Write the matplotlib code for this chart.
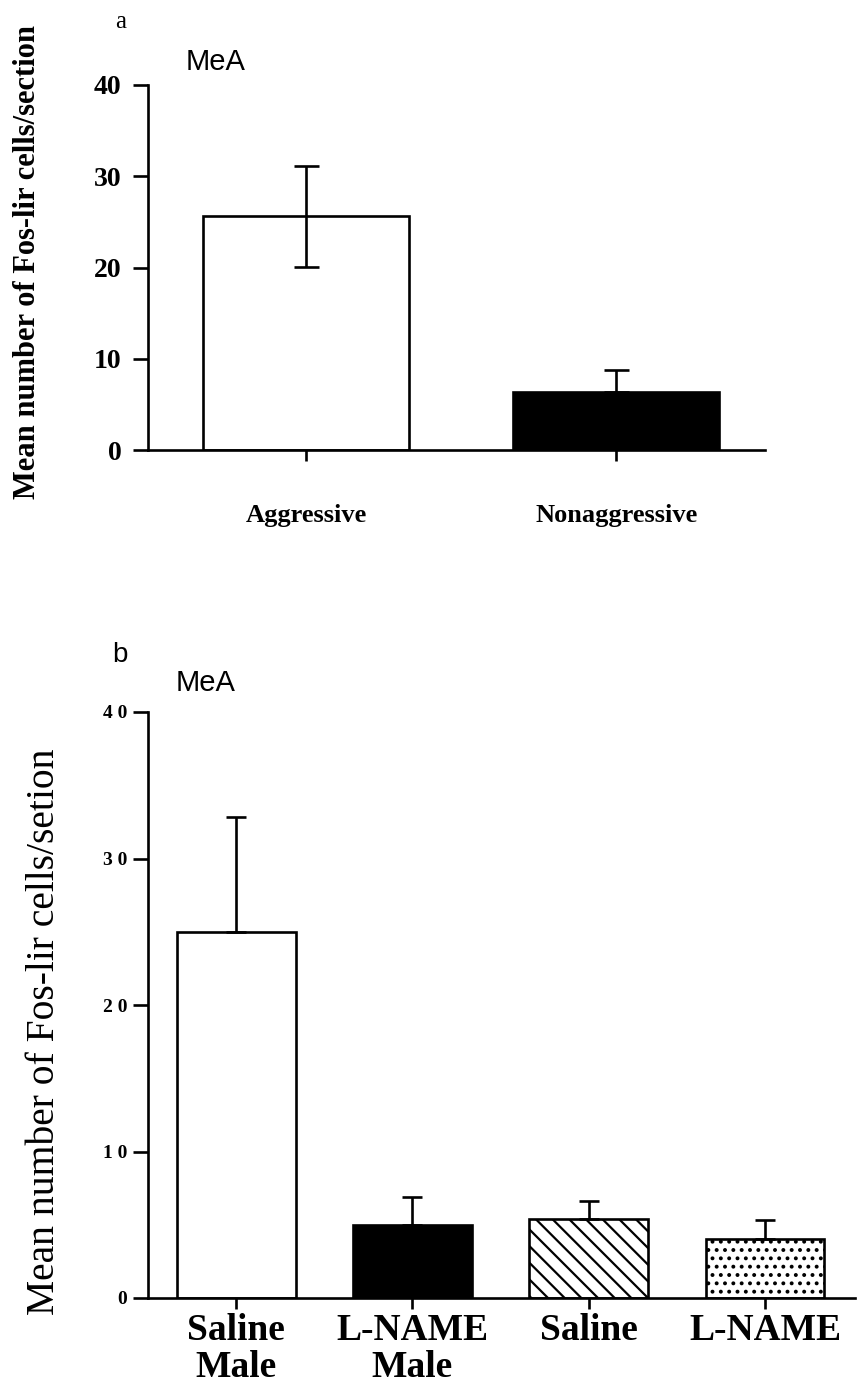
import matplotlib
matplotlib.use("Agg")
import matplotlib.pyplot as plt

# panel a data
groups_a = ["Aggressive", "Nonaggressive"]
means_a = [25.6, 6.4]
err_low_a = [5.5, 0.0]
err_high_a = [5.5, 2.4]
colors_a = ["white", "black"]

# panel b data
groups_b = ["Saline\nMale", "L-NAME\nMale", "Saline", "L-NAME"]
means_b = [25.0, 5.0, 5.4, 4.0]
err_high_b = [7.8, 1.9, 1.2, 1.3]
colors_b = ["white", "black", "white", "white"]
hatches_b = [None, None, "\\\\", ".."]

yticks = [0, 10, 20, 30, 40]
yticklabels_b = ["0", "1 0", "2 0", "3 0", "4 0"]

plt.rcParams["hatch.linewidth"] = 1.6
serif = "Liberation Serif"
sans = "Liberation Sans"

fig = plt.figure(figsize=(8.58, 13.82), dpi=100)
W, H = 858.0, 1382.0


def style_axes(ax):
    for s in ["top", "right"]:
        ax.spines[s].set_visible(False)
    for s in ["left", "bottom"]:
        ax.spines[s].set_linewidth(1.9)
    ax.tick_params(axis="y", direction="out", length=11, width=1.9, pad=8)
    ax.tick_params(axis="x", direction="out", length=8, width=1.9)


################### panel a ###################
ax1 = fig.add_axes([148 / W, 1 - 450 / H, (765 - 148) / W, (450 - 85) / H])
x_a = range(len(groups_a))
ax1.bar(x_a, means_a, width=0.665, color=colors_a, edgecolor="black", linewidth=1.9)
ax1.errorbar(x_a, means_a, yerr=[err_low_a, err_high_a], fmt="none",
             ecolor="black", elinewidth=1.9, capsize=9, capthick=1.9)
ax1.set_xlim(-0.51, 1.48)
ax1.set_ylim(0, 40)
ax1.set_yticks(yticks)
ax1.set_yticklabels([str(v) for v in yticks], fontfamily=serif,
                    fontweight="bold", fontsize=20)
ax1.set_xticks(list(x_a))
ax1.set_xticklabels(groups_a, fontfamily=serif, fontweight="bold", fontsize=19)
ax1.set_ylabel("Mean number of Fos-lir cells/section", fontfamily=serif,
               fontweight="bold", fontsize=22)
ax1.yaxis.set_label_coords(-(148 - 28) / (765 - 148), (450 - 262) / (450 - 85))
ax1.yaxis.label.set_va("center")
style_axes(ax1)
ax1.tick_params(axis="x", pad=31)
fig.text(115 / W, 1 - 22 / H, "a", fontfamily=serif, fontsize=18,
         ha="left", va="center")
fig.text(186 / W, 1 - 62 / H, "MeA", fontfamily=sans, fontsize=21,
         ha="left", va="center")

################### panel b ###################
ax2 = fig.add_axes([148 / W, 1 - 1298 / H, (855 - 148) / W, (1298 - 712) / H])
x_b = range(len(groups_b))
bars = ax2.bar(x_b, means_b, width=0.674, color=colors_b, edgecolor="black",
               linewidth=1.9)
for b, h in zip(bars, hatches_b):
    if h:
        b.set_hatch(h)
ax2.errorbar(x_b, means_b, yerr=[[0] * len(means_b), err_high_b], fmt="none",
             ecolor="black", elinewidth=1.9, capsize=7, capthick=1.9)
ax2.set_xlim(-0.50, 3.51)
ax2.set_ylim(0, 40)
ax2.set_yticks(yticks)
ax2.set_yticklabels(yticklabels_b, fontfamily=serif, fontweight="bold",
                    fontsize=14)
ax2.set_xticks(list(x_b))
ax2.set_xticklabels(groups_b, fontfamily=serif, fontweight="bold", fontsize=27,
                    linespacing=1.05)
ax2.set_ylabel("Mean number of Fos-lir cells/setion", fontfamily=serif,
               fontsize=28.5)
ax2.yaxis.set_label_coords(-(148 - 45) / (855 - 148), (1298 - 1032) / (1298 - 712))
ax2.yaxis.label.set_va("center")
style_axes(ax2)
ax2.tick_params(axis="x", pad=3)
ax2.tick_params(axis="y", pad=4)
fig.text(112 / W, 1 - 655 / H, "b", fontfamily=sans, fontsize=20,
         ha="left", va="center")
fig.text(176 / W, 1 - 683 / H, "MeA", fontfamily=sans, fontsize=21,
         ha="left", va="center")

fig.savefig("out.png", dpi=100)
